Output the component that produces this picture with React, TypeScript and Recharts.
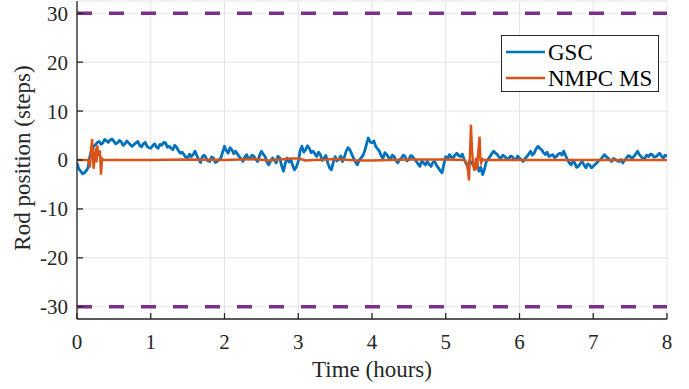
import React from 'react';
import { LineChart, Line, XAxis, YAxis, CartesianGrid, ReferenceLine, Legend } from 'recharts';

// GSC rod position, sampled every 0.025 h (one row per hour)
const gscSampleStepHours = 0.025;
const gscValue = [
  -0.6, -1.8, -2.3, -2.8, -2.6, -2.2, -1.6, 0.8, 2.1, 2.8, 3.1, 3.6, 3.8, 3.2, 3.5, 4.2, 3.9, 3.6, 4.1, 4.3, 3.8, 3.3, 3.5, 4.0, 3.7, 3.0, 3.3, 3.9, 3.5, 3.1, 2.8, 3.2, 3.5, 3.8, 3.0, 2.7, 3.3, 3.6, 2.8, 2.5,
  2.4, 2.9, 3.3, 2.7, 2.4, 3.2, 3.0, 3.6, 3.5, 2.6, 2.8, 2.4, 2.1, 3.0, 2.6, 1.9, 1.4, 1.6, 1.1, 0.6, 0.4, 1.2, 0.7, 1.1, 1.8, 0.9, 0.1, -0.5, 0.7, 1.0, 0.4, -0.2, -0.3, 0.6, 0.4, -0.5, -0.3, 0.1, 0.4, 1.6,
  2.8, 1.9, 1.4, 2.5, 2.1, 1.3, 1.8, 1.2, 0.7, 0.2, -0.3, 0.6, 1.1, 0.2, 0.4, 1.0, 0.7, 0.1, -0.3, 0.9, 1.8, 1.2, 0.7, -0.4, -1.0, -0.2, 0.4, 0.0, -0.6, 0.8, 0.4, -1.2, -2.3, -0.6, 0.4, -0.4, 0.1, -1.2, -2.0, -1.4,
  -0.3, 1.9, 2.8, 1.6, 2.1, 2.9, 2.4, 1.5, 1.8, 1.3, 0.7, 1.6, 1.1, -0.1, 0.4, 0.9, -0.6, -1.6, -2.0, -0.5, 0.7, -0.2, 0.1, 0.8, -0.3, 0.6, 1.8, 2.5, 2.1, 1.2, 0.4, -0.3, -1.0, -0.1, 0.4, 0.9, 1.8, 3.2, 4.5, 3.7,
  3.5, 3.9, 2.8, 2.3, 1.8, 0.8, 0.4, 1.5, 1.1, 0.5, 0.1, 1.0, 0.7, -0.1, -0.6, 0.1, 0.4, 1.0, 0.7, -0.2, 0.1, 0.9, 0.7, 0.2, -0.3, -0.8, -1.3, -0.2, -0.6, -1.0, -0.3, -0.9, -1.3, -0.5, -0.3, -1.1, -1.6, -2.2, -2.6, -0.8,
  0.7, 0.2, 1.1, 0.6, 0.4, 1.0, 1.4, 0.9, 0.7, 1.2, 0.1, -0.7, -1.3, -0.2, -0.6, -1.1, -1.6, -0.8, -2.3, -1.5, -3.0, -1.9, -0.3, 0.2, 0.7, 1.3, 1.8, 1.4, 1.1, 0.5, 0.4, 1.0, 0.7, 0.3, 0.1, 0.8, 0.7, 0.2, 0.1, 0.8,
  0.4, 0.1, -0.3, 0.3, 0.7, 1.2, 1.8, 1.0, 1.4, 2.3, 2.8, 2.4, 2.1, 1.5, 1.1, 1.6, 0.7, 0.9, 1.1, 0.5, 0.7, 1.2, 1.4, 1.0, 1.8, 0.9, 0.1, -0.6, -1.0, -0.3, -0.6, -1.5, -1.3, -0.7, -0.3, -1.0, -1.6, -0.8, -1.0, -1.6,
  -1.3, -0.9, -0.6, -0.1, 0.1, 0.6, 1.1, 0.7, 0.4, 0.0, -0.3, 0.3, 0.1, -0.2, -0.3, 0.1, -0.6, -0.1, 0.4, 0.9, 0.7, 0.3, 0.7, 1.2, 1.8, 1.1, 0.7, 0.2, 0.4, 1.0, 0.7, 1.2, 1.1, 0.6, 0.7, 1.0, 1.4, 0.8, 0.4, 1.0,
  0.7,
];

const nmpcTime = [
  0, 0.14, 0.16, 0.175, 0.19, 0.205, 0.215, 0.225, 0.24, 0.255, 0.265, 0.275, 0.29, 0.31, 0.325, 0.34, 0.36,
  1.0, 1.5, 2.0, 2.4, 2.6, 2.9, 3.0, 3.1, 3.5, 3.8, 4.0, 4.5, 5.0, 5.25, 5.28, 5.30, 5.315, 5.33, 5.342,
  5.355, 5.37, 5.39, 5.41, 5.424, 5.44, 5.459, 5.47, 5.48, 5.5, 5.52, 6.0, 7.0, 8.0,
];

const nmpcValue = [
  0, 0, -0.3, -1.5, 2.0, 4.3, 1.0, -1.8, 0.5, 2.5, -0.5, 3.0, 0.8, 2.0, -3.0, 0.3, 0,
  0, 0.1, 0, 0.2, -0.1, 0.3, 0.3, -0.1, 0.2, -0.1, -0.1, 0.1, 0.1, 0, -0.5, -2.0, -4.2, 2.0, 7.2,
  2.5, -1.0, -2.2, 0.5, -2.0, 1.5, 4.8, 0, -0.6, 0.2, 0, 0, 0, 0,
];

const xTicks = [0, 1, 2, 3, 4, 5, 6, 7, 8];
const yTicks = [-30, -20, -10, 0, 10, 20, 30];
const limitValues = [30, -30];
const seriesNames = ['GSC', 'NMPC MS'];

const gscData = gscValue.map((v, i) => ({ t: i * gscSampleStepHours, v }));
const nmpcData = nmpcTime.map((t, i) => ({ t, v: nmpcValue[i] }));

const BLUE = '#0072BD';
const ORANGE = '#D95319';
const PURPLE = '#7E2F8E';
const AXIS = '#262626';
const FONT = 'Liberation Serif';

const XTick = (props: any) => {
  const { x, y, payload } = props;
  return (
    <text x={x} y={y} dy="0.71em" textAnchor="middle" fontFamily={FONT} fontSize={21} fill={AXIS}>
      {payload.value}
    </text>
  );
};

const YTick = (props: any) => {
  const { x, y, payload } = props;
  return (
    <text x={x} y={y} dy="0.355em" textAnchor="end" fontFamily={FONT} fontSize={21} fill={AXIS}>
      {payload.value}
    </text>
  );
};

const LegendBox = () => (
  <svg width={158} height={57} style={{ display: 'block' }}>
    <rect x={0.5} y={0.5} width={157} height={56} fill="#ffffff" stroke={AXIS} strokeWidth={1} />
    <line x1={5} x2={44} y1={17} y2={17} stroke={BLUE} strokeWidth={2.5} />
    <text x={47} y={17} dy="0.35em" fontFamily={FONT} fontSize={23} fill="#000">{seriesNames[0]}</text>
    <line x1={5} x2={44} y1={43} y2={43} stroke={ORANGE} strokeWidth={2.5} />
    <text x={47} y={43} dy="0.35em" fontFamily={FONT} fontSize={23} fill="#000">{seriesNames[1]}</text>
  </svg>
);

export default function App() {
  return (
    <div style={{ position: 'absolute', left: 0, top: 0, width: 689, height: 389, background: '#fff', fontFamily: FONT }}>
      <LineChart width={689} height={389} margin={{ top: 1, right: 22, bottom: 30, left: 0 }}>
        <CartesianGrid stroke="#e3e3e3" strokeWidth={1} horizontal vertical />
        <XAxis
          dataKey="t"
          type="number"
          domain={[0, 8]}
          ticks={xTicks}
          allowDataOverflow
          height={40}
          stroke={AXIS}
          strokeWidth={1.3}
          tickSize={-6}
          tickMargin={21}
          tick={<XTick />}
          label={{
            content: () => (
              <text x={372} y={377} textAnchor="middle" fontFamily={FONT} fontSize={23} fill={AXIS}>
                Time (hours)
              </text>
            ),
          }}
        />
        <YAxis
          type="number"
          domain={[-32.5, 32.5]}
          ticks={yTicks}
          allowDataOverflow
          width={77}
          stroke={AXIS}
          strokeWidth={1.3}
          tickSize={-6}
          tickMargin={15}
          tick={<YTick />}
          label={{
            content: () => (
              <text
                x={30}
                y={158}
                textAnchor="middle"
                transform="rotate(-90 30 158)"
                fontFamily={FONT}
                fontSize={23}
                fill={AXIS}
              >
                Rod position (steps)
              </text>
            ),
          }}
        />
        {limitValues.map((y) => (
          <ReferenceLine key={y} y={y} stroke={PURPLE} strokeWidth={3.6} strokeDasharray="15 17" />
        ))}
        <Line
          data={gscData}
          dataKey="v"
          name={seriesNames[0]}
          type="linear"
          stroke={BLUE}
          strokeWidth={2.8}
          strokeLinejoin="round"
          dot={false}
          isAnimationActive={false}
        />
        <Line
          data={nmpcData}
          dataKey="v"
          name={seriesNames[1]}
          type="linear"
          stroke={ORANGE}
          strokeWidth={2.4}
          dot={false}
          isAnimationActive={false}
        />
        <Legend
          layout="horizontal"
          verticalAlign="middle"
          align="center"
          content={() => <LegendBox />}
          wrapperStyle={{ position: 'absolute', left: 501, top: 35, width: 158, height: 57 }}
        />
      </LineChart>
    </div>
  );
}
